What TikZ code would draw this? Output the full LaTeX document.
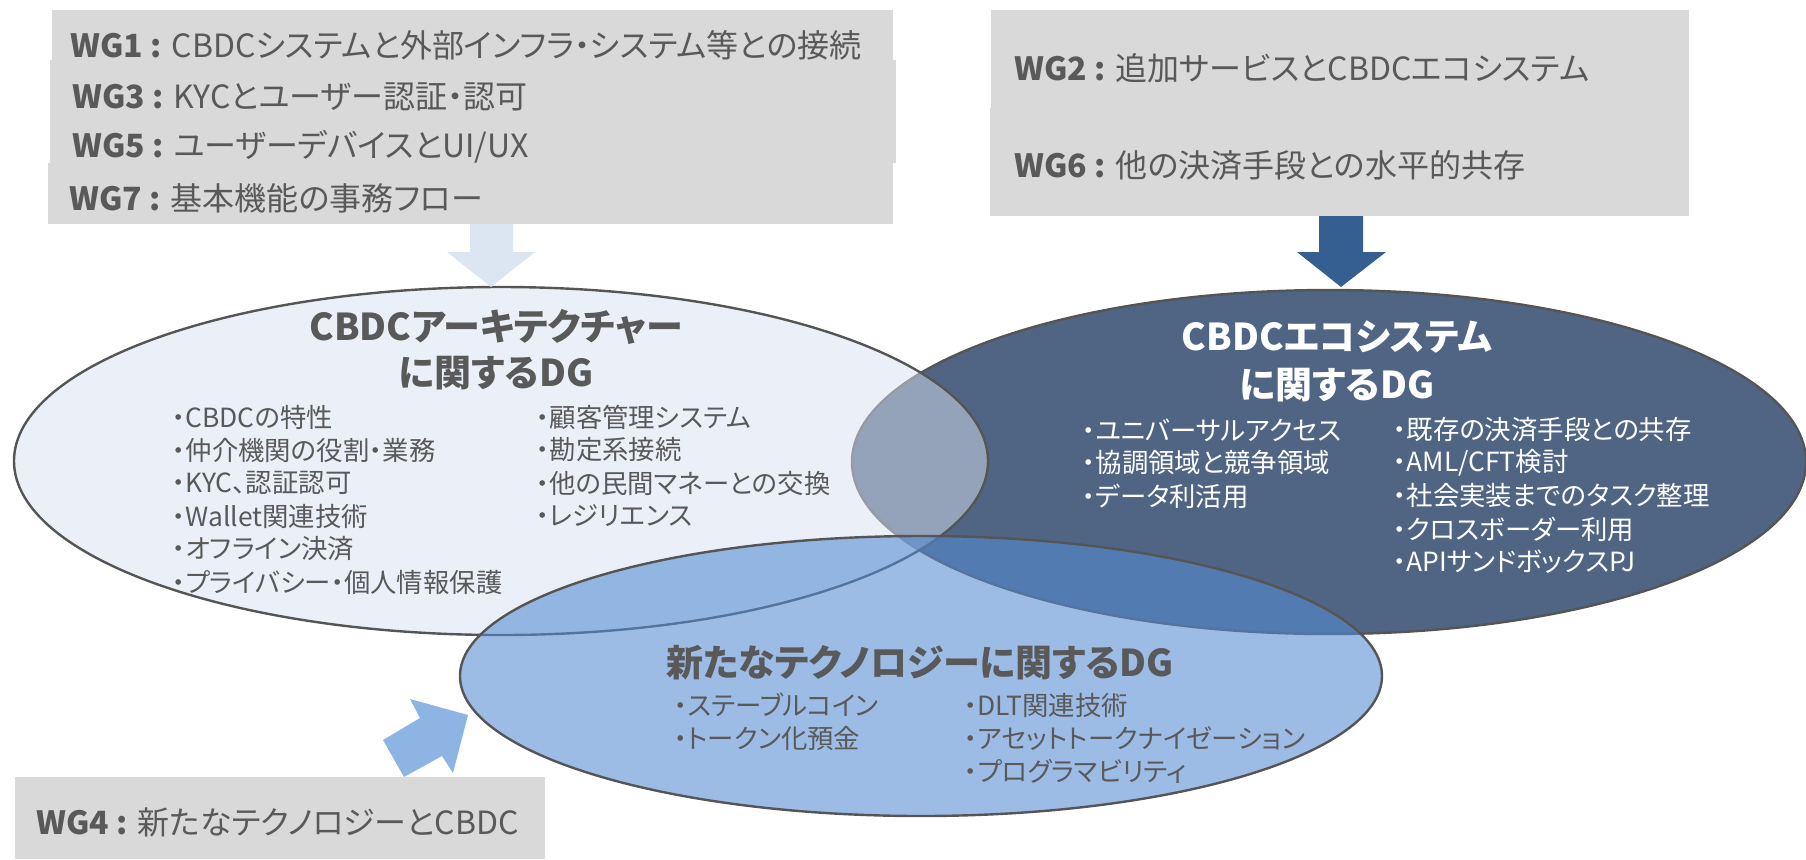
\documentclass[tikz,border=0pt]{standalone}
\usepackage{fontspec}
\setmainfont{Noto Sans CJK JP}[RawFeature=+palt]
\definecolor{txt}{RGB}{89,89,89}
\definecolor{boxgray}{RGB}{217,217,217}
\definecolor{darkell}{RGB}{80,101,132}
\definecolor{lightell}{RGB}{216,226,241}
\definecolor{midell}{RGB}{84,139,210}
\definecolor{outl}{RGB}{85,85,85}
\definecolor{arrlight}{RGB}{220,230,242}
\definecolor{arrdark}{RGB}{54,95,145}
\definecolor{arrmid}{RGB}{142,180,227}
\begin{document}
\begin{tikzpicture}[x=0.5pt,y=-0.5pt,
  wgtext/.style={anchor=west,inner sep=0pt,text=txt,font=\fontsize{16}{19}\selectfont},
  title/.style={inner sep=0pt,text=txt,font=\fontsize{18.5}{22}\selectfont\bfseries},
  item/.style={anchor=west,inner sep=0pt,text=txt,font=\fontsize{13.2}{16}\selectfont},
  ellout/.style={draw=outl,line width=1.2pt}]
\useasboundingbox (0,0) rectangle (1806,859);
% gray boxes
\fill[boxgray] (52,10) rectangle (893,60);
\fill[boxgray] (50,60) rectangle (896,163);
\fill[boxgray] (48,163) rectangle (893,224);
\fill[boxgray] (991,10) rectangle (1689,108);
\fill[boxgray] (990,108) rectangle (1689,216);
\fill[boxgray] (15,777) rectangle (545,859);
% ellipses
\fill[darkell] (1329,462) ellipse [x radius=238.5pt, y radius=86pt];
\draw[ellout] (1329,462) ellipse [x radius=238.5pt, y radius=86pt];
\fill[lightell,fill opacity=0.5] (501,461) ellipse [x radius=243.5pt, y radius=87pt];
\draw[ellout] (501,461) ellipse [x radius=243.5pt, y radius=87pt];
\fill[midell,fill opacity=0.58] (921,676) ellipse [x radius=230.5pt, y radius=70pt];
\draw[ellout] (921,676) ellipse [x radius=230.5pt, y radius=70pt];
% block arrows
\fill[arrlight] (470,224) -- (513,224) -- (513,252) -- (535,252) -- (491,287) -- (447,252) -- (470,252) -- cycle;
\fill[arrdark] (1319,216) -- (1363,216) -- (1363,252) -- (1386,252) -- (1341,287) -- (1297,252) -- (1319,252) -- cycle;
\fill[arrmid] (383,740) -- (404,777) -- (442,756) -- (453,773) -- (468,715) -- (410,699) -- (420,718) -- cycle;
% WG texts
\node[wgtext] (wg1) at (70,45) {{\bfseries WG1 : }CBDCシステムと外部インフラ・システム等との接続};
\node[wgtext] (wg3) at (72,97) {{\bfseries WG3 : }KYCとユーザー認証・認可};
\node[wgtext] (wg5) at (72,147) {{\bfseries WG5 : }ユーザーデバイスとUI/UX};
\node[wgtext] (wg7) at (69,198) {{\bfseries WG7 : }基本機能の事務フロー};
\node[wgtext] (wg2) at (1014,68) {{\bfseries WG2 : }追加サービスとCBDCエコシステム};
\node[wgtext] (wg6) at (1014,165) {{\bfseries WG6 : }他の決済手段との水平的共存};
\node[wgtext] (wg4) at (36,822) {{\bfseries WG4 : }新たなテクノロジーとCBDC};
% titles
\node[title] (tA1) at (496,327) {CBDCアーキテクチャー};
\node[title] (tA2) at (496,373) {に関するDG};
\node[title,text=white] (tB1) at (1337,337) {CBDCエコシステム};
\node[title,text=white] (tB2) at (1337,385) {に関するDG};
\node[title] (tC) at (920,663) {新たなテクノロジーに関するDG};
% items
\foreach \t [count=\i] in {・CBDCの特性,・仲介機関の役割・業務,・KYC、認証認可,・Wallet関連技術,・オフライン決済,・プライバシー・個人情報保護}
  \node[item] (la\i) at (172,{417+33*(\i-1)}) {\t};
\foreach \t [count=\i] in {・顧客管理システム,・勘定系接続,・他の民間マネーとの交換,・レジリエンス}
  \node[item] (lb\i) at (536,{417+33*(\i-1)}) {\t};
\foreach \t [count=\i] in {・ユニバーサルアクセス,・協調領域と競争領域,・データ利活用}
  \node[item,text=white] (ra\i) at (1082,{430+33*(\i-1)}) {\t};
\foreach \t [count=\i] in {・既存の決済手段との共存,・AML/CFT検討,・社会実装までのタスク整理,・クロスボーダー利用,・APIサンドボックスPJ}
  \node[item,text=white] (rb\i) at (1393,{430+33*(\i-1)}) {\t};
\foreach \t [count=\i] in {・ステーブルコイン,・トークン化預金}
  \node[item] (ba\i) at (674,{705+33*(\i-1)}) {\t};
\foreach \t [count=\i] in {・DLT関連技術,・アセットトークナイゼーション,・プログラマビリティ}
  \node[item] (bb\i) at (964,{705+33*(\i-1)}) {\t};
\end{tikzpicture}
\end{document}
